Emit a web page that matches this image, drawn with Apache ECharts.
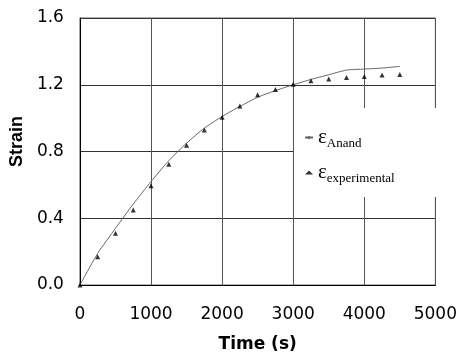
<!DOCTYPE html>
<html>
<head>
<meta charset="utf-8">
<script src="https://cdn.jsdelivr.net/npm/echarts@6/dist/echarts.min.js"></script>
<style>html,body{margin:0;padding:0;background:#fff}#c{width:460px;height:358px}</style>
</head>
<body>
<div id="c"></div>
<script>
// Data
var timeS = [0,250,500,750,1000,1250,1500,1750,2000,2250,2500,2750,3000,3250,3500,3750,4000,4250,4500];
var strainAnand = [0,0.19,0.34,0.485,0.62,0.745,0.85,0.94,1.01,1.07,1.125,1.165,1.20,1.232,1.26,1.288,1.294,1.30,1.31];
var strainExperimental = [0,0.17,0.31,0.45,0.595,0.723,0.838,0.929,1.005,1.072,1.14,1.172,1.203,1.224,1.234,1.244,1.25,1.258,1.262];
var xTicks = [0,1000,2000,3000,4000,5000];
var yTicks = [0.0,0.4,0.8,1.2,1.6];
var seriesNames = ['εAnand','εexperimental'];
var seriesSubs = ['Anand','experimental'];

function pairs(xs, ys){ return xs.map(function(x,i){ return [x, ys[i]]; }); }

var chart = echarts.init(document.getElementById('c'), null, {renderer:'canvas'});
chart.setOption({
  animation:false,
  grid:{left:77,right:23,top:18,bottom:73,show:true,borderColor:'#666',borderWidth:1,backgroundColor:'transparent'},
  xAxis:{
    type:'value', min:xTicks[0], max:xTicks[xTicks.length-1], interval:1000,
    name:'Time (s)', nameLocation:'middle', nameGap:51,
    nameTextStyle:{fontFamily:'DejaVu Sans',fontWeight:'bold',fontSize:17,color:'#000'},
    axisLine:{lineStyle:{color:'#000',width:1}},
    axisTick:{show:false},
    axisLabel:{margin:21,fontFamily:'DejaVu Sans',fontSize:17,color:'#000',formatter:function(v){return String(v);}},
    splitLine:{show:true,lineStyle:{color:'#555',width:1}}
  },
  yAxis:{
    type:'value', min:yTicks[0], max:yTicks[yTicks.length-1], interval:0.4,
    name:'Strain', nameLocation:'middle', nameGap:50, nameRotate:90,
    nameTextStyle:{fontFamily:'Liberation Sans',fontWeight:'bold',fontSize:18,color:'#000',padding:[0,0,0,20]},
    axisLine:{show:true,lineStyle:{color:'#000',width:1}},
    axisTick:{show:false},
    axisLabel:{margin:16,fontFamily:'DejaVu Sans',fontSize:17,color:'#000',formatter:function(v){return v.toFixed(1);}},
    splitLine:{show:true,lineStyle:{color:'#333',width:1}}
  },
  graphic:[{type:'rect',z:5,shape:{x:294,y:108,width:142,height:89},style:{fill:'#fff'}}],
  legend:{
    z:10, orient:'vertical', left:299, top:122, itemGap:12, itemWidth:8, itemHeight:4,
    data:[{name:seriesNames[0]},{name:seriesNames[1],icon:'triangle'}],
    formatter:function(name){ var i = seriesNames.indexOf(name); return '{e|ε}{s|' + seriesSubs[i] + '}'; },
    textStyle:{
      color:'#000',
      rich:{
        e:{fontFamily:'Liberation Serif',fontSize:21,color:'#000'},
        s:{fontFamily:'Liberation Serif',fontSize:13,color:'#000',padding:[12,0,0,0]}
      }
    }
  },
  series:[
    {name:seriesNames[0], type:'line', data:pairs(timeS,strainAnand), symbol:'none', smooth:0.2,
     lineStyle:{color:'#666',width:1}, itemStyle:{color:'#666'}, z:3},
    {name:seriesNames[1], type:'scatter', data:pairs(timeS,strainExperimental), symbol:'triangle', symbolSize:5,
     itemStyle:{color:'#000'}, z:4}
  ]
});
</script>
</body>
</html>
